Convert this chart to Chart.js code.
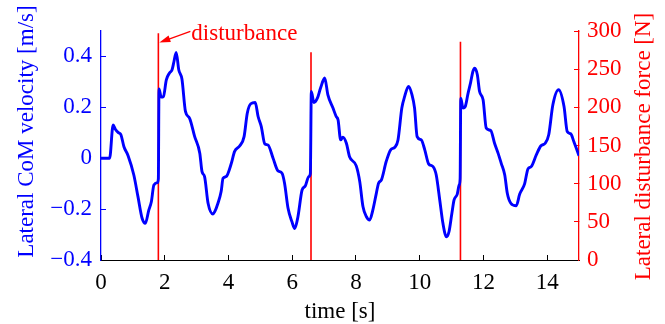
<!DOCTYPE html>
<html>
<head>
<meta charset="utf-8">
<script src="https://cdn.jsdelivr.net/npm/chart.js"></script>
<style>
  html, body { margin: 0; padding: 0; background: #fff; }
  #wrap { width: 665px; height: 324px; }
</style>
</head>
<body>
<div id="wrap"><canvas id="chart" width="665" height="324"></canvas></div>
<script>
// lateral CoM velocity
var timeS = [0.00, 0.27, 0.38, 0.45, 0.55, 0.62, 0.72, 0.85, 1.03, 1.16, 1.29, 1.39, 1.50, 1.58, 1.66, 1.77, 1.80,
  1.82, 1.89, 1.96, 2.05, 2.15, 2.23, 2.29, 2.36, 2.44, 2.54, 2.65, 2.78, 2.94, 3.10, 3.17, 3.25, 3.36, 3.51, 3.57,
  3.67, 3.77, 3.83, 3.93, 4.09, 4.19, 4.35, 4.49, 4.59, 4.70, 4.84, 4.93, 5.03, 5.14, 5.24, 5.40, 5.55, 5.68, 5.76,
  5.87, 5.99, 6.08, 6.18, 6.31, 6.41, 6.52, 6.57, 6.60, 6.68, 6.79, 6.89, 7.02, 7.12, 7.28, 7.38, 7.44, 7.52, 7.59,
  7.70, 7.80, 8.01, 8.12, 8.22, 8.33, 8.43, 8.53, 8.64, 8.71, 8.80, 8.95, 9.09, 9.22, 9.32, 9.44, 9.53, 9.65, 9.76,
  9.84, 9.92, 10.05, 10.16, 10.28, 10.42, 10.52, 10.63, 10.73, 10.84, 10.92, 11.01, 11.08, 11.18, 11.24, 11.27,
  11.29, 11.36, 11.43, 11.52, 11.60, 11.67, 11.73, 11.81, 11.88, 11.99, 12.09, 12.23, 12.35, 12.46, 12.56, 12.67,
  12.75, 12.86, 13.03, 13.14, 13.29, 13.40, 13.50, 13.66, 13.80, 13.94, 14.05, 14.18, 14.36, 14.53, 14.63, 14.74,
  14.84, 15.00];
var velocity = [0.000, 0.000, 0.131, 0.114, 0.100, 0.094, 0.045, 0.010, -0.066, -0.151, -0.236, -0.256, -0.204, -0.171, -0.105, -0.096, -0.080,
  0.272, 0.240, 0.243, 0.308, 0.335, 0.348, 0.380, 0.416, 0.348, 0.311, 0.184, 0.157, 0.085, 0.020, -0.053, -0.072, -0.177, -0.219, -0.210,
  -0.177, -0.131, -0.079, -0.072, -0.020, 0.026, 0.048, 0.085, 0.177, 0.214, 0.219, 0.164, 0.124, 0.056, 0.052, 0.000, -0.049, -0.059, -0.098,
  -0.197, -0.249, -0.276, -0.230, -0.125, -0.109, -0.072, -0.060, 0.262, 0.219, 0.236, 0.276, 0.315, 0.249, 0.197, 0.164, 0.150, 0.072, 0.083,
  0.059, 0.006, -0.030, -0.092, -0.190, -0.230, -0.243, -0.204, -0.138, -0.098, -0.085, -0.013, 0.033, 0.043, 0.072, 0.197, 0.243, 0.282, 0.249,
  0.197, 0.085, 0.072, 0.033, -0.022, -0.033, -0.066, -0.164, -0.256, -0.309, -0.289, -0.217, -0.164, -0.141, -0.105, -0.080,
  0.236, 0.197, 0.203, 0.256, 0.298, 0.341, 0.354, 0.328, 0.262, 0.230, 0.118, 0.109, 0.059, 0.020, -0.020, -0.066,
  -0.138, -0.177, -0.187, -0.141, -0.102, -0.042, -0.033, 0.013, 0.048, 0.059, 0.092, 0.210, 0.269, 0.203, 0.105, 0.096,
  0.065, 0.010];

// disturbance force pulses
var forceTimes = [1.80, 6.59, 11.28];
var forcePeaks = [297, 272, 286];
var arrowForce = 285;

var xTicks = [0, 2, 4, 6, 8, 10, 12, 14];
var velTicks = [-0.4, -0.2, 0, 0.2, 0.4];
var forceTicks = [0, 50, 100, 150, 200, 250, 300];

var BLUE = '#0000ff', RED = '#ff0000';
var SERIF = '"Liberation Serif", "Times New Roman", serif';

var velPoints = timeS.map(function (t, i) { return { x: t, y: velocity[i] }; });
var forcePoints = [];
forceTimes.forEach(function (t, i) {
  forcePoints.push({ x: t, y: 0 }, { x: t, y: forcePeaks[i] }, { x: t, y: null });
});

function fixed(list) {
  return function (scale) { scale.ticks = list.map(function (v) { return { value: v }; }); };
}
function minus(v) { return String(v).replace('-', '\u2212'); }

var textPlugin = {
  id: 'textPlugin',
  afterDraw: function (chart) {
    var ctx = chart.ctx, area = chart.chartArea;
    var xs = chart.scales.x, yr = chart.scales.y2;
    ctx.save();
    ctx.font = '23px ' + SERIF;
    ctx.textBaseline = 'alphabetic';
    ctx.textAlign = 'center';

    ctx.fillStyle = '#000';
    ctx.fillText('time [s]', (area.left + area.right) / 2, 318);

    ctx.save();
    ctx.translate(33, 131.5);
    ctx.rotate(-Math.PI / 2);
    ctx.fillStyle = BLUE;
    ctx.fillText('Lateral CoM velocity [m/s]', 0, 0);
    ctx.restore();

    ctx.save();
    ctx.translate(650, 146.5);
    ctx.rotate(-Math.PI / 2);
    ctx.fillStyle = RED;
    ctx.fillText('Lateral disturbance force [N]', 0, 0);
    ctx.restore();

    // arrow + "disturbance"
    var tipX = xs.getPixelForValue(forceTimes[0]) + 1;
    var tipY = yr.getPixelForValue(arrowForce);
    var tailX = tipX + 31, tailY = tipY - 11;
    var ang = Math.atan2(tailY - tipY, tailX - tipX);
    ctx.strokeStyle = RED;
    ctx.fillStyle = RED;
    ctx.lineWidth = 1.3;
    ctx.beginPath();
    ctx.moveTo(tailX, tailY);
    ctx.lineTo(tipX + 8 * Math.cos(ang), tipY + 8 * Math.sin(ang));
    ctx.stroke();
    ctx.beginPath();
    ctx.moveTo(tipX, tipY);
    ctx.lineTo(tipX + 11 * Math.cos(ang) - 3.5 * Math.sin(ang), tipY + 11 * Math.sin(ang) + 3.5 * Math.cos(ang));
    ctx.lineTo(tipX + 11 * Math.cos(ang) + 3.5 * Math.sin(ang), tipY + 11 * Math.sin(ang) - 3.5 * Math.cos(ang));
    ctx.closePath();
    ctx.fill();
    ctx.textAlign = 'left';
    ctx.fillText('disturbance', tailX + 1, tailY + 8.5);
    ctx.restore();
  }
};

Chart.defaults.font.family = SERIF;
Chart.defaults.font.size = 23;

new Chart(document.getElementById('chart'), {
  type: 'line',
  data: {
    datasets: [
      {
        label: 'velocity',
        data: velPoints,
        yAxisID: 'y',
        borderColor: BLUE,
        borderWidth: 2.9,
        pointRadius: 0,
        cubicInterpolationMode: 'monotone',
        fill: false
      },
      {
        label: 'force',
        data: forcePoints,
        yAxisID: 'y2',
        borderColor: RED,
        borderWidth: 1.6,
        pointRadius: 0,
        spanGaps: false,
        fill: false
      }
    ]
  },
  options: {
    responsive: false,
    animation: false,
    layout: { padding: { top: 31, left: 0, right: 0, bottom: 0 } },
    plugins: { legend: { display: false }, tooltip: { enabled: false } },
    scales: {
      x: {
        type: 'linear',
        min: 0,
        max: 15,
        afterBuildTicks: fixed(xTicks),
        afterFit: function (s) { s.height = 64; },
        grid: { drawOnChartArea: false, tickLength: -5, color: '#000' },
        border: { color: '#000', width: 1 },
        ticks: { color: '#000', padding: 14, maxRotation: 0, autoSkip: false }
      },
      y: {
        position: 'left',
        min: -0.4,
        max: 0.5,
        afterBuildTicks: fixed(velTicks),
        afterFit: function (s) { s.width = 101; },
        grid: { drawOnChartArea: false, tickLength: -5, color: BLUE },
        border: { color: BLUE, width: 1.3 },
        ticks: { color: BLUE, padding: 14, autoSkip: false, callback: function (v) { return minus(v); } }
      },
      y2: {
        position: 'right',
        min: 0,
        max: 300,
        afterBuildTicks: fixed(forceTicks),
        afterFit: function (s) { s.width = 86; },
        grid: { drawOnChartArea: false, tickLength: -5, color: RED },
        border: { color: RED, width: 1.3 },
        ticks: { color: RED, padding: 13, autoSkip: false }
      }
    }
  },
  plugins: [textPlugin]
});
</script>
</body>
</html>
